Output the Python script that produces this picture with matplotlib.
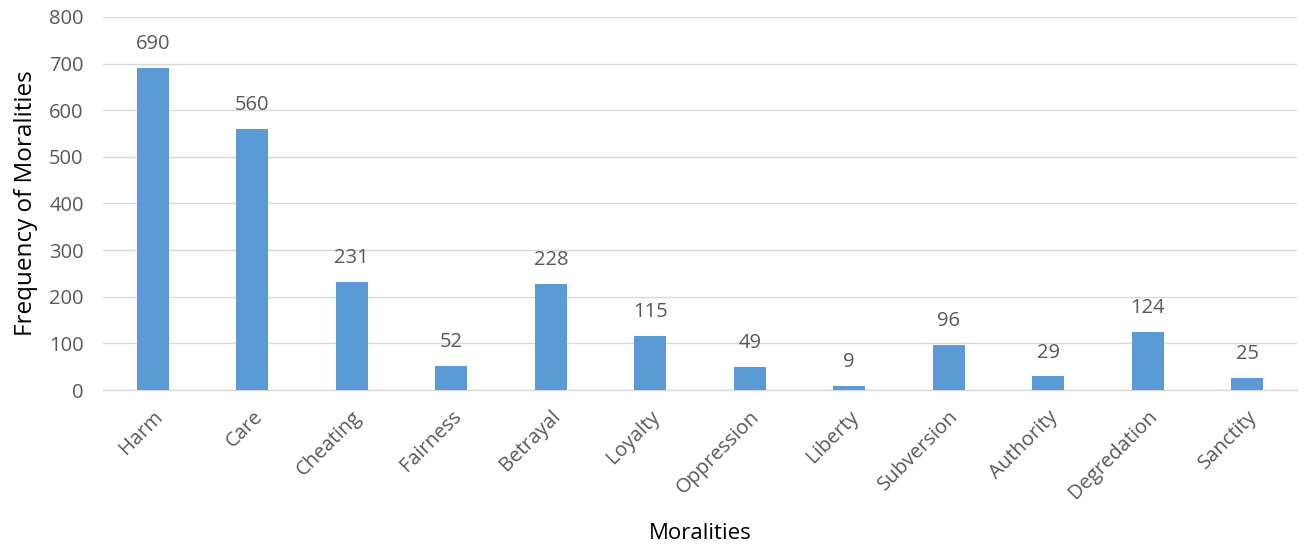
import matplotlib
matplotlib.use("Agg")
import matplotlib.pyplot as plt

categories = ["Harm", "Care", "Cheating", "Fairness", "Betrayal", "Loyalty",
              "Oppression", "Liberty", "Subversion", "Authority", "Degredation", "Sanctity"]
counts = [690, 560, 231, 52, 228, 115, 49, 9, 96, 29, 124, 25]
yticks = [0, 100, 200, 300, 400, 500, 600, 700, 800]

plt.rcParams["font.family"] = ["Open Sans", "DejaVu Sans"]

BAR = "#5b9bd5"
TEXT = "#595959"
GRID = "#d9d9d9"

fig = plt.figure(figsize=(13.06, 5.47), dpi=100)
ax = fig.add_axes([0.079, 0.287, 0.914, 0.682])

x = range(len(categories))
ax.bar(x, counts, width=0.32, color=BAR, zorder=3)
for i, v in zip(x, counts):
    ax.annotate(str(v), (i, v), xytext=(0, 10), textcoords="offset points",
                ha="center", va="bottom", fontsize=14.5, color=TEXT)

ax.set_xlim(-0.5, len(categories) - 0.5)
ax.set_ylim(0, 800)
ax.set_yticks(yticks)
ax.set_xticks(list(x))
ax.set_xticklabels(categories, rotation=45, ha="right", rotation_mode="anchor",
                   fontsize=14.5, color=TEXT)
ax.tick_params(axis="y", labelsize=14.5, labelcolor=TEXT, length=0, pad=14)
ax.tick_params(axis="x", length=0, pad=12)

ax.grid(axis="y", color=GRID, linewidth=1, zorder=0)
for side in ["top", "right", "left"]:
    ax.spines[side].set_visible(False)
ax.spines["bottom"].set_color(GRID)
ax.spines["bottom"].set_linewidth(1)

ax.set_ylabel("Frequency of Moralities", fontsize=17.5, color="black", labelpad=8)
ax.set_xlabel("Moralities", fontsize=16, color="black", labelpad=14)

fig.savefig("out.png", dpi=100)
